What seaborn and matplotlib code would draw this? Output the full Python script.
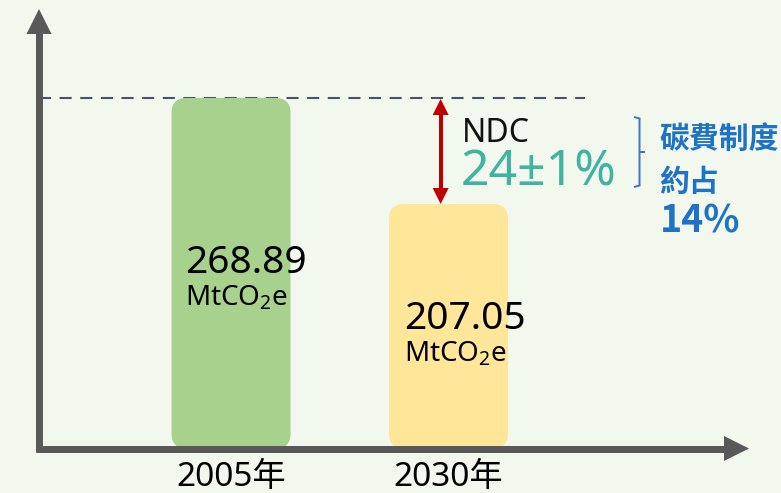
import matplotlib
matplotlib.use('Agg')
import matplotlib.pyplot as plt
import numpy as np
import pandas as pd
import seaborn as sns
from matplotlib.patches import FancyBboxPatch, Polygon
from matplotlib.lines import Line2D
from matplotlib.transforms import IdentityTransform

# ---------------- data ----------------
years = ['2005年', '2030年']
emissions = [268.89, 207.05]
value_labels = ['268.89', '207.05']
unit_label = 'MtCO$_\\mathrm{2}$e'
bar_colors = ['#a9d18e', '#ffe699']
ndc_title = 'NDC'
ndc_range = '24±1%'
fee_lines = ['碳費制度', '約占', '14%']

# ---------------- style ----------------
W, H = 781, 493
BG = '#f3f8ef'
GRAY = '#595959'
RED = '#c00000'
TEAL = '#40b4a0'
BLUE = '#1f73c6'
BRACKET = '#4472c4'
DASH = '#44546a'

sns.set_theme(style='white')
plt.rcParams['font.family'] = ['Noto Sans', 'Noto Sans CJK TC', 'DejaVu Sans']
plt.rcParams['mathtext.fontset'] = 'custom'
plt.rcParams['mathtext.rm'] = 'Noto Sans'
plt.rcParams['mathtext.it'] = 'Noto Sans:italic'
plt.rcParams['mathtext.bf'] = 'Noto Sans:bold'

fig = plt.figure(figsize=(W / 100, H / 100), dpi=100, facecolor=BG)
ax = fig.add_axes([39 / W, 1 - 448.5 / H, (749 - 39) / W, (448.5 - 9) / H])
ax.set_facecolor('none')

df = pd.DataFrame({'year': years, 'emissions': emissions})
sns.barplot(data=df, x='year', y='emissions', hue='year', palette=bar_colors,
            saturation=1, width=0.547, legend=False, ax=ax)
ax.set_xlim(-0.883, 2.382)
ax.set_ylim(64.4, 320.8)
for s in ax.spines.values():
    s.set_visible(False)
ax.set_yticks([])
ax.set_xlabel('')
ax.set_ylabel('')
ax.tick_params(axis='x', length=0, pad=9, labelsize=24, labelcolor='black')
ax.grid(False)


def px(x, y):
    """image pixel (from top-left) -> figure fraction"""
    return x / W, 1 - y / H


def line_px(xs, ys, wpx, color, z=5, cap='butt'):
    fig.add_artist(Line2D(xs, ys, lw=wpx * 72 / 100, color=color, solid_capstyle=cap,
                          solid_joinstyle='miter', transform=IdentityTransform(), zorder=z))


def tri_px(pts, color, z=5):
    fig.add_artist(Polygon(pts, closed=True, facecolor=color, edgecolor='none',
                           transform=IdentityTransform(), zorder=z))


# rounded bars built from seaborn's bar geometry
ybot = ax.get_ylim()[0]
for p in list(ax.patches):
    x0 = p.get_x()
    w = p.get_width()
    top = p.get_y() + p.get_height()
    (bx0, by0) = ax.transData.transform((x0, ybot))
    (bx1, by1) = ax.transData.transform((x0 + w, top))
    fb = FancyBboxPatch((bx0, by0), bx1 - bx0, by1 - by0,
                        boxstyle='round,pad=0,rounding_size=15',
                        facecolor=p.get_facecolor(), edgecolor='none',
                        transform=IdentityTransform(), zorder=2)
    fig.add_artist(fb)
    p.set_visible(False)

# dashed reference line at 2005 level
ax.plot([ax.get_xlim()[0], 1.628], [emissions[0], emissions[0]], color=DASH,
        lw=1.5, ls=(0, (5.8, 4.1)), zorder=1)

# axes arrows
bb = ax.bbox
X0, Y0, X1, Y1 = bb.x0, bb.y0, bb.x1, bb.y1
line_px([X0, X0], [Y0 - 3.5, Y1 - 24], 7, GRAY)
tri_px([(X0 - 12.5, Y1 - 25), (X0 + 12.5, Y1 - 25), (X0, Y1)], GRAY)
line_px([X0 - 3.5, X1 - 24], [Y0, Y0], 7, GRAY)
tri_px([(X1 - 25, Y0 - 12.5), (X1 - 25, Y0 + 12.5), (X1, Y0)], GRAY)

# red double arrow between the two levels
(ax_x, p_top) = ax.transData.transform((0.964, emissions[0]))
(_, p_bot) = ax.transData.transform((0.964, emissions[1]))
p_top -= 1
line_px([ax_x, ax_x], [p_top - 14, p_bot + 14], 4, RED)
tri_px([(ax_x - 8, p_top - 16), (ax_x + 8, p_top - 16), (ax_x, p_top)], RED)
tri_px([(ax_x - 8, p_bot + 16), (ax_x + 8, p_bot + 16), (ax_x, p_bot)], RED)

# bracket
bx = [634, 639.5, 639.5, 634]
by = [117, 118.5, 185.5, 187]
line_px(bx, [H - v for v in by], 2, BRACKET)
line_px([639.5, 645], [H - 152, H - 152], 2, BRACKET)

# bar value labels
fig.text(*px(185, 273), value_labels[0], fontsize=28, color='black', ha='left', va='baseline')
fig.text(*px(185, 305), unit_label, fontsize=20, color='black', ha='left', va='baseline')
fig.text(*px(404, 329), value_labels[1], fontsize=28, color='black', ha='left', va='baseline')
fig.text(*px(404, 361), unit_label, fontsize=20, color='black', ha='left', va='baseline')

# NDC annotation
fig.text(*px(462, 142.5), ndc_title, fontsize=23, color='#111111', ha='left', va='baseline')
fig.text(*px(461, 186), ndc_range, fontsize=36, color=TEAL, ha='left', va='baseline')

# carbon fee annotation
cjk = ['Noto Sans CJK TC', 'DejaVu Sans']
fig.text(*px(659, 148), fee_lines[0], fontsize=21.5, color=BLUE, ha='left', va='baseline',
         fontweight='bold', family=cjk)
fig.text(*px(659, 191), fee_lines[1], fontsize=21.5, color=BLUE, ha='left', va='baseline',
         fontweight='bold', family=cjk)
fig.text(*px(660, 232.5), fee_lines[2], fontsize=27, color=BLUE, ha='left', va='baseline',
         fontweight='bold', family=cjk)

fig.savefig('out.png', dpi=100, facecolor=BG)
